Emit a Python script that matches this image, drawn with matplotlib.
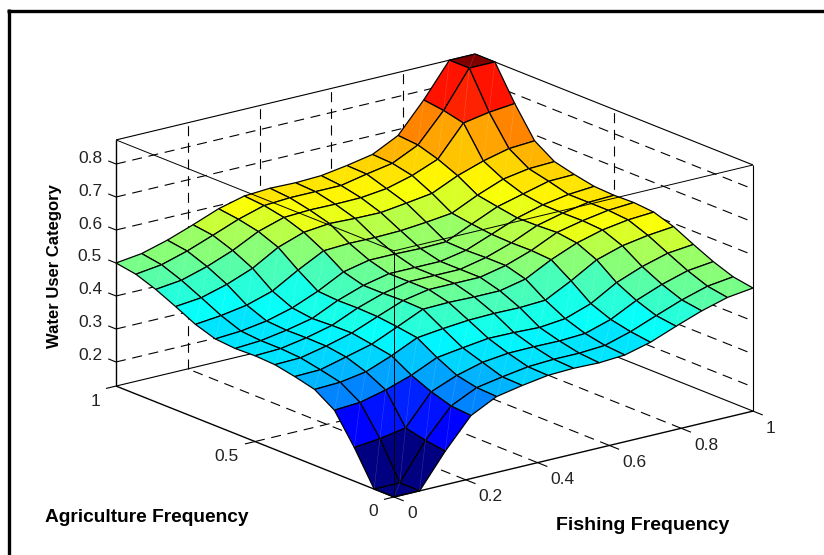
import numpy as np
import matplotlib
matplotlib.use('Agg')
import matplotlib.pyplot as plt
from matplotlib.colors import LinearSegmentedColormap
from matplotlib.lines import Line2D
from mpl_toolkits.mplot3d import proj3d
from mpl_toolkits.mplot3d.art3d import Line3DCollection

plt.rcParams['font.family'] = ['Liberation Sans', 'DejaVu Sans']

# axis values
fishing = [i / 14 for i in range(15)]
agriculture = [i / 14 for i in range(15)]
fishing_ticks = [0, 0.2, 0.4, 0.6, 0.8, 1]
fishing_labels = ['0', '0.2', '0.4', '0.6', '0.8', '1']
agri_ticks = [0, 0.5, 1]
agri_labels = ['0', '0.5', '1']
water_ticks = [0.2, 0.3, 0.4, 0.5, 0.6, 0.7, 0.8]
water_labels = ['0.2', '0.3', '0.4', '0.5', '0.6', '0.7', '0.8']
z_low, z_high = 0.127, 0.873

water_use = [
    [.127, .127, .229, .318, .357, .372, .384, .387, .385, .390, .410, .440, .468, .490, .500],
    [.127, .127, .237, .323, .360, .374, .386, .390, .390, .395, .418, .448, .477, .500, .510],
    [.229, .237, .251, .342, .373, .394, .403, .404, .403, .407, .431, .470, .500, .523, .532],
    [.318, .323, .342, .368, .403, .414, .424, .423, .420, .428, .455, .500, .530, .552, .560],
    [.357, .360, .373, .403, .439, .448, .455, .457, .456, .460, .500, .545, .569, .582, .590],
    [.372, .374, .394, .414, .448, .483, .485, .483, .483, .500, .540, .572, .593, .605, .610],
    [.384, .386, .403, .424, .455, .485, .500, .500, .500, .517, .544, .580, .597, .610, .615],
    [.387, .390, .404, .423, .457, .483, .500, .500, .500, .517, .543, .577, .596, .610, .613],
    [.385, .390, .403, .420, .456, .483, .500, .500, .500, .515, .545, .576, .597, .610, .616],
    [.390, .395, .407, .428, .460, .500, .517, .517, .515, .517, .552, .586, .606, .626, .628],
    [.410, .418, .431, .455, .500, .540, .544, .543, .545, .552, .561, .597, .627, .640, .643],
    [.440, .448, .470, .500, .545, .572, .580, .577, .576, .586, .597, .632, .658, .677, .682],
    [.468, .477, .500, .530, .569, .593, .597, .596, .597, .606, .627, .658, .749, .763, .771],
    [.490, .500, .523, .552, .582, .605, .610, .610, .610, .626, .640, .677, .763, .873, .873],
    [.500, .510, .532, .560, .590, .610, .615, .613, .616, .628, .643, .682, .771, .873, .873],
]

# matlab flavour of jet, matplotlib's own has its red end in other places
jet = LinearSegmentedColormap.from_list('matlab_jet', [
    (0, (0, 0, 0.5)), (0.125, (0, 0, 1)), (0.375, (0, 1, 1)),
    (0.625, (1, 1, 0)), (0.875, (1, 0, 0)), (1, (0.5, 0, 0))], N=64)

fig = plt.figure(figsize=(8.24, 5.55), dpi=100)
ax = fig.add_axes([0.1, 0.05, 600 / 824, 600 / 555], projection='3d', computed_zorder=False)
ax.set_proj_type('ortho')
ax.view_init(elev=18, azim=-127.75)
ax.set_box_aspect((1, 1, 0.57))
ax.set_xlim(0, 1)
ax.set_ylim(0, 1)
ax.set_zlim(z_low, z_high)
ax.set_axis_off()


def to_px(x, y, z):
    px, py, _ = proj3d.proj_transform(x, y, z, ax.get_proj())
    return ax.transData.transform((px, py))


# fit the box onto the figure: front corner at (394, 497), fishing axis 359 px wide
size = 600 * 359 / (to_px(1, 0, z_low) - to_px(0, 0, z_low))[0]
ax.set_position([0.1, 0.05, size / 824, size / 555])
shift = np.array([394, 555 - 497]) - to_px(0, 0, z_low)
ax.set_position([0.1 + shift[0] / 824, 0.05 + shift[1] / 555, size / 824, size / 555])


def seg(p, q, zo, lw=0.8, **kw):
    ax.plot([p[0], q[0]], [p[1], q[1]], [p[2], q[2]], color='k', lw=lw, zorder=zo,
            solid_capstyle='butt', clip_on=False, **kw)


dash = dict(linestyle=(0, (9, 6)))

# dashed grid on the floor and the two back walls
for t in fishing_ticks[1:-1]:
    seg((t, 0, z_low), (t, 1, z_low), 1, **dash)
    seg((t, 1, z_low), (t, 1, z_high), 1, **dash)
for t in agri_ticks[1:-1]:
    seg((0, t, z_low), (1, t, z_low), 1, **dash)
    seg((1, t, z_low), (1, t, z_high), 1, **dash)
for t in water_ticks:
    seg((0, 1, t), (1, 1, t), 1, **dash)
    seg((1, 1, t), (1, 0, t), 1, **dash)

# box edges behind the surface
seg((0, 1, z_low), (1, 1, z_low), 2)
seg((1, 0, z_low), (1, 1, z_low), 2)
seg((1, 1, z_low), (1, 1, z_high), 2)
seg((0, 1, z_high), (1, 1, z_high), 2)
seg((1, 0, z_high), (1, 1, z_high), 2)

X, Y = np.meshgrid(fishing, agriculture, indexing='ij')
Z = np.array(water_use)
colors = jet((Z - Z.min()) / (Z.max() - Z.min()))
ax.plot_surface(X, Y, Z, facecolors=colors, rstride=1, cstride=1, shade=False,
                edgecolor='k', linewidth=0.9, antialiased=True, zorder=3)

# the faint light seam across every face, front vertex to back vertex
seams = []
for i in range(14):
    for j in range(14):
        seams.append([(X[i, j], Y[i, j], Z[i, j]), (X[i + 1, j + 1], Y[i + 1, j + 1], Z[i + 1, j + 1])])
ax.add_collection3d(Line3DCollection(seams, colors=[(1, 1, 1, 0.2)], linewidths=0.4, zorder=3.5),
                    autolim=False)

# box edges in front of the surface
seg((0, 0, z_low), (1, 0, z_low), 4, lw=1.0)
seg((0, 0, z_low), (0, 1, z_low), 4, lw=1.0)
seg((0, 1, z_low), (0, 1, z_high), 4, lw=1.0)
seg((1, 0, z_low), (1, 0, z_high), 4)
seg((0, 0, z_low), (0, 0, z_high), 4, lw=0.7)
seg((0, 0, z_high), (1, 0, z_high), 4, lw=0.7)
seg((0, 0, z_high), (0, 1, z_high), 4, lw=0.7)


def tick_label(text, point, dx, dy, ha):
    px, py, _ = proj3d.proj_transform(*point, ax.get_proj())
    ax.annotate(text, xy=(px, py), xycoords='data', xytext=(dx, dy), textcoords='offset pixels',
                ha=ha, va='center', fontsize=12.5, color='#222222', zorder=6)


for t, lab in zip(fishing_ticks, fishing_labels):
    seg((t, 0, z_low), (t, -0.035, z_low), 4)
    tick_label(lab, (t, 0, z_low), 13, -17, 'left')
for t, lab in zip(agri_ticks, agri_labels):
    seg((0, t, z_low), (-0.028, t, z_low), 4)
    tick_label(lab, (0, t, z_low), -16, -15, 'right')
for t, lab in zip(water_ticks, water_labels):
    seg((0, 1, t), (0, 1.028, t), 4)
    tick_label(lab, (0, 1, t), -14, 6, 'right')

fig.text(54.5 / 824, 1 - 266.5 / 555, 'Water User Category', rotation=90, fontsize=12, fontweight='bold',
         ha='center', va='center')
fig.text(45 / 824, 1 - 518 / 555, 'Agriculture Frequency', fontsize=13.8, fontweight='bold',
         ha='left', va='center')
fig.text(556 / 824, 1 - 525 / 555, 'Fishing Frequency', fontsize=14, fontweight='bold',
         ha='left', va='center')

# thick frame left over from the original figure
fig.add_artist(Line2D([8.5 / 824, 8.5 / 824], [0, 1 - 9 / 555], color='k', lw=2.4, solid_capstyle='butt'))
fig.add_artist(Line2D([7 / 824, 1], [1 - 10.5 / 555, 1 - 10.5 / 555], color='k', lw=2.4, solid_capstyle='butt'))

fig.savefig('out.png', dpi=100)
